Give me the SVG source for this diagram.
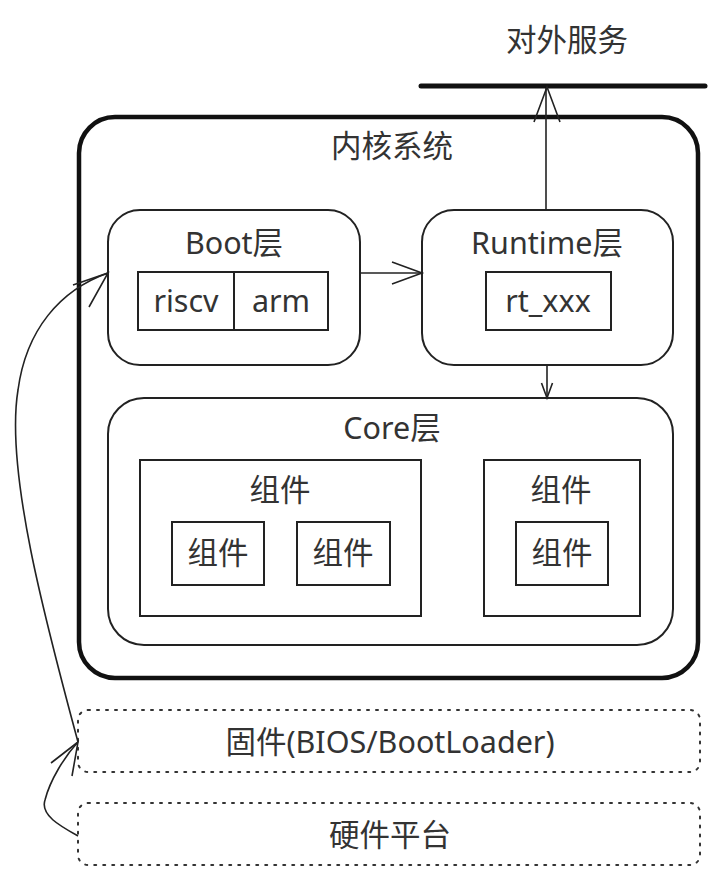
<svg xmlns="http://www.w3.org/2000/svg" width="719" height="881" viewBox="0 0 719 881">
<style>
text{font-family:"Noto Sans","Noto Sans CJK SC",sans-serif;fill:#333;text-anchor:middle;font-size:30.5px;}
.box{fill:none;stroke:#222;stroke-width:2;}
.dot{fill:none;stroke:#333;stroke-width:2;stroke-dasharray:2 7;stroke-linecap:round;}
.ln{fill:none;stroke:#222;stroke-width:1.6;}
</style>
<rect width="719" height="881" fill="#fff"/>
<g id="service">
<line x1="421" y1="86" x2="705" y2="86" stroke="#111" stroke-width="5" stroke-linecap="round"/>
<text x="567" y="51">对外服务</text>
</g>
<g id="kernel">
<rect x="79" y="117" width="619" height="561" rx="36" fill="none" stroke="#111" stroke-width="4.5"/>
<text x="392" y="157">内核系统</text>
</g>
<g id="boot">
<rect class="box" x="108" y="210" width="252" height="155" rx="32"/>
<text x="234" y="254">Boot层</text>
<rect class="box" x="138" y="272" width="96" height="58"/>
<rect class="box" x="234" y="272" width="94" height="58"/>
<text x="186" y="312">riscv</text>
<text x="281" y="312">arm</text>
</g>
<g id="runtime">
<rect class="box" x="422" y="210" width="251" height="155" rx="32"/>
<text x="547" y="254">Runtime层</text>
<rect class="box" x="486" y="272" width="125" height="58"/>
<text x="548" y="312">rt_xxx</text>
</g>
<g id="core">
<rect class="box" x="108" y="398" width="565" height="247" rx="36"/>
<text x="392" y="439">Core层</text>
<rect class="box" x="140" y="460" width="281" height="156"/>
<text x="280" y="501">组件</text>
<rect class="box" x="172" y="522" width="92" height="63"/>
<text x="218" y="564">组件</text>
<rect class="box" x="297" y="522" width="93" height="63"/>
<text x="343" y="564">组件</text>
<rect class="box" x="484" y="460" width="156" height="156"/>
<text x="561" y="501">组件</text>
<rect class="box" x="516" y="522" width="92" height="63"/>
<text x="562" y="564">组件</text>
</g>
<g id="firmware">
<rect class="dot" x="78" y="710" width="622" height="62" rx="10"/>
<text x="390" y="753">固件(BIOS/BootLoader)</text>
</g>
<g id="hardware">
<rect class="dot" x="78" y="803" width="622" height="62" rx="10"/>
<text x="390" y="846">硬件平台</text>
</g>
<g id="connectors" class="ln">
<path d="M546 210 V88"/>
<path d="M534 122 L547 87 L560 122"/>
<path d="M360 273 H421"/>
<path d="M392 262 L422 273 L392 284"/>
<path d="M547 365 V397"/>
<path d="M541.5 383 L547 398 L552.5 383"/>
<path d="M78 742 C45 620 5 470 18 390 C26 330 60 290 108 273"/>
<path d="M73 285 L108 273 L89 307"/>
<path d="M78 836 C60 826 40 815 45 800 C50 780 65 756 78 742"/>
<path d="M51 763 L78 742 L72 776"/>
</g>
</svg>
